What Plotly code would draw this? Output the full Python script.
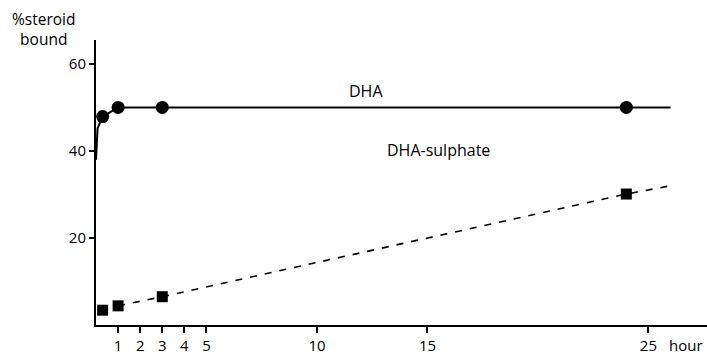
import plotly.graph_objects as go

# DHA (free steroid) data
dha_hours = [0.3, 1, 3, 24]
dha_bound = [47.9, 50.0, 50.0, 50.0]
# DHA curve drawn through the points
dha_curve_hours = [0, 0.07, 0.3, 1, 3, 24, 26]
dha_curve_bound = [38.0, 45.2, 47.9, 50.0, 50.0, 50.0, 50.0]

# DHA-sulphate data
sul_hours = [0.3, 1, 3, 24]
sul_bound = [3.4, 4.4, 6.5, 30.1]
# dashed fitted line
sul_line_hours = [1, 3, 24, 26]
sul_line_bound = [4.4, 6.5, 30.1, 32.0]

x_ticks = [1, 2, 3, 4, 5, 10, 15, 25]
y_ticks = [20, 40, 60]

FONT = "Open Sans"
INK = "#000000"

# plot area in pixels (for placing paper-referenced labels)
L, R, T, B = 96, 707, 40, 325
def px_x(p):
    return (p - L) / (R - L)
def px_y(p):
    return (B - p) / (B - T)

fig = go.Figure()
fig.add_trace(go.Scatter(x=dha_curve_hours, y=dha_curve_bound, mode="lines",
                         line=dict(color=INK, width=2), hoverinfo="skip"))
fig.add_trace(go.Scatter(x=dha_hours, y=dha_bound, mode="markers",
                         marker=dict(symbol="circle", size=13, color=INK)))
fig.add_trace(go.Scatter(x=sul_line_hours, y=sul_line_bound, mode="lines",
                         line=dict(color=INK, width=1.6, dash="7px,8px"), hoverinfo="skip"))
fig.add_trace(go.Scatter(x=sul_hours, y=sul_bound, mode="markers",
                         marker=dict(symbol="square", size=11, color=INK)))

fig.add_annotation(x=12.2, y=53.8, text="DHA", showarrow=False,
                   font=dict(family=FONT, size=16, color=INK))
fig.add_annotation(x=15.5, y=40.2, text="DHA-sulphate", showarrow=False,
                   font=dict(family=FONT, size=16, color=INK))
fig.add_annotation(xref="paper", yref="paper", x=px_x(43), y=px_y(29), text="%steroid<br>bound",
                   showarrow=False, xanchor="center", yanchor="middle", align="center",
                   font=dict(family=FONT, size=15.5, color=INK))
fig.add_annotation(xref="paper", yref="paper", x=px_x(686), y=px_y(345), text="hour",
                   showarrow=False, xanchor="center", yanchor="middle",
                   font=dict(family=FONT, size=15, color=INK))

fig.update_layout(
    width=707, height=354,
    margin=dict(l=L, r=707 - R, t=T, b=354 - B),
    paper_bgcolor="white", plot_bgcolor="white",
    showlegend=False,
    font=dict(family=FONT, size=15, color=INK),
    xaxis=dict(range=[0, 27.65], tickvals=x_ticks, ticktext=[str(v) for v in x_ticks],
               showline=True, linecolor=INK, linewidth=2, showgrid=False, zeroline=False,
               ticks="outside", ticklen=6, tickwidth=2, tickcolor=INK,
               tickfont=dict(family=FONT, size=15, color=INK)),
    yaxis=dict(range=[0, 65.5], tickvals=y_ticks, ticktext=[str(v) for v in y_ticks],
               showline=True, linecolor=INK, linewidth=2, showgrid=False, zeroline=False,
               ticks="outside", ticklen=5, tickwidth=2, tickcolor=INK,
               tickfont=dict(family=FONT, size=15, color=INK)),
)

fig.write_html("out.html")
